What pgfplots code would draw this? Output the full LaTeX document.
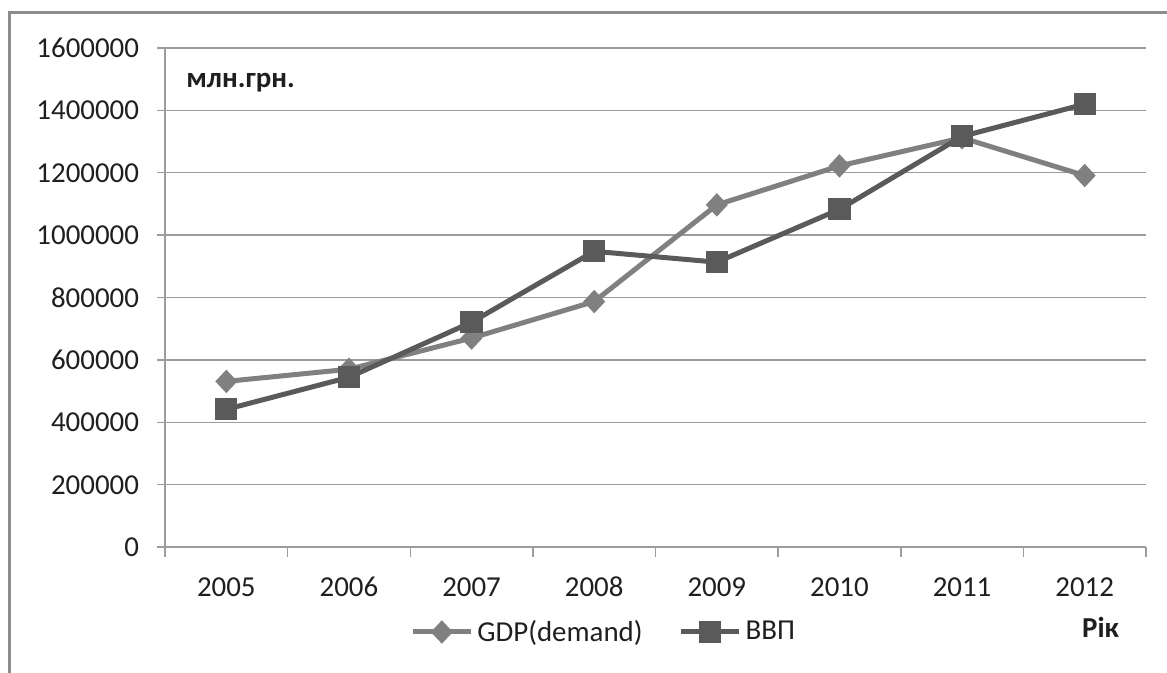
\documentclass[border=0pt]{standalone}
\usepackage{fontspec}
\setmainfont{Carlito}
\usepackage{pgfplots}
\pgfplotsset{compat=1.18}
\definecolor{gdpc}{HTML}{808080}
\definecolor{vvpc}{HTML}{5A5A5A}
\definecolor{gridc}{HTML}{9C9C9C}
\definecolor{framec}{HTML}{8C8C8C}
\newcommand{\lbl}{\fontsize{14.5}{17}\selectfont}
\begin{document}
\begin{tikzpicture}[x=1bp,y=1bp]
\useasboundingbox (0,0) rectangle (583.5,336);
\draw[framec, line width=1.5bp] (4.5,-5) -- (4.5,329.5) -- (600,329.5);
\begin{axis}[
  at={(82.5bp,62.5bp)}, anchor=south west,
  scale only axis, width=490.5bp, height=249.5bp,
  xmin=-0.5, xmax=7.5, ymin=0, ymax=1600000,
  axis x line*=bottom, axis y line*=left,
  axis line style={gridc, line width=0.75bp},
  xtick={0,...,7}, xticklabels={2005,2006,2007,2008,2009,2010,2011,2012},
  major x tick style={draw=none},
  minor xtick={-0.5,0.5,...,7.5},
  minor tick length=5bp,
  ytick={0,200000,...,1600000},
  ymajorgrids, major grid style={gridc, line width=0.75bp},
  tick align=outside, major tick length=4bp,
  tick style={gridc, line width=0.75bp},
  scaled y ticks=false,
  yticklabel style={/pgf/number format/fixed, /pgf/number format/1000 sep={}, xshift=-5.5bp, text height=9.5bp, text depth=0pt},
  xticklabel style={yshift=-7.5bp, text height=9.5bp, text depth=0pt},
  /pgf/number format/assume math mode=true,
  ticklabel style={font=\lbl, text=black!88},
  legend style={at={(0.2497,-0.1703)}, anchor=west, draw=none, fill=none,
    inner xsep=0pt, inner ysep=0pt, font=\lbl, text=black!88,
    legend columns=2, /tikz/every even column/.append style={column sep=16bp}},
  legend image code/.code={\draw[#1, mark repeat=2, mark phase=2] plot coordinates {(0bp,0bp)(14.5bp,0bp)(29bp,0bp)};},
  clip=false,
]
\addplot[gdpc, line width=2.5bp, mark=diamond*, mark size=5.5bp,
  mark options={solid, fill=gdpc, draw=gdpc, line width=0.5bp, xscale=1.25}]
  coordinates {(0,531000)(1,570000)(2,670000)(3,787000)(4,1097000)(5,1222000)(6,1312000)(7,1191000)};
\addlegendentry{GDP(demand)}
\addplot[vvpc, line width=2.5bp, mark=square*, mark size=5.3bp,
  mark options={solid, fill=vvpc, draw=vvpc, line width=0.5bp}]
  coordinates {(0,441452)(1,544153)(2,720731)(3,948056)(4,913345)(5,1082569)(6,1316600)(7,1420000)};
\addlegendentry{ВВП}
\node[anchor=west, inner sep=0pt, font=\lbl\bfseries, text=black!88] at (rel axis cs:0.0214,0.93) {млн.грн.};
\end{axis}
\node[font=\lbl\bfseries, text=black!88, inner sep=0pt] at (550.25,22.5) {Рік};
\end{tikzpicture}
\end{document}
